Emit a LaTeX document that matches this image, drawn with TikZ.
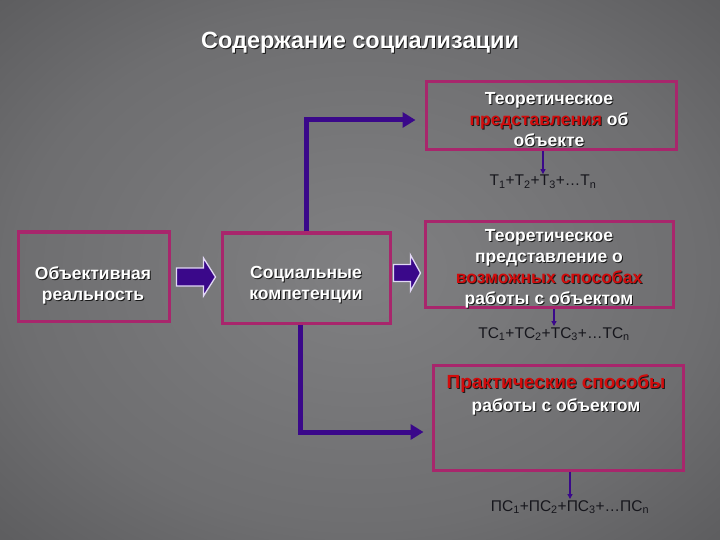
\documentclass[tikz,border=0pt]{standalone}
\usepackage{fontspec}
\setmainfont{Liberation Sans}
\usetikzlibrary{arrows.meta,calc}
\definecolor{bordc}{RGB}{168,38,108}
\definecolor{arrc}{RGB}{58,8,138}
\definecolor{arrline}{RGB}{225,215,245}
\definecolor{redw}{RGB}{210,12,12}
\definecolor{subc}{RGB}{22,22,28}
\definecolor{bgA}{RGB}{128,128,130}
\definecolor{bgB}{RGB}{110,110,112}
\definecolor{bgC}{RGB}{72,72,74}
\definecolor{bgD}{RGB}{30,30,32}
\pgfdeclareradialshading{bgshade}{\pgfpoint{0bp}{0bp}}{color(0bp)=(bgA); color(24bp)=(bgB); color(50bp)=(bgC); color(72bp)=(bgD)}
\newcommand\shd[2][white]{\rlap{\kern1pt\raisebox{-1pt}{\color{black!90}#2}}{\color{#1}#2}}
\newcommand\blkarrow[5]{\path[barrow] let \p1=#1, \p2=#2 in (\x1,\y1+#3pt) -- (\x2-#5pt,\y1+#3pt) -- (\x2-#5pt,\y1+#4pt) -- (\x2,\y1) -- (\x2-#5pt,\y1-#4pt) -- (\x2-#5pt,\y1-#3pt) -- (\x1,\y1-#3pt) -- cycle;}
\begin{document}
\begin{tikzpicture}[x=1pt,y=-1pt,
 box/.style={draw=bordc, line width=3pt, inner sep=0pt},
 txt/.style={align=center, font=\fontsize{17.5}{21}\selectfont\bfseries, inner sep=0pt},
 sublabel/.style={font=\fontsize{15.5}{17}\selectfont, text=subc, inner sep=1pt},
 conn/.style={draw=arrc, line width=5pt, -{Triangle[length=13pt,width=15pt]}},
 tickarrow/.style={draw=arrc, line width=1.5pt, -{Triangle[length=5pt,width=5pt]}},
 barrow/.style={fill=arrc, draw=arrline, line width=1.3pt, line join=miter}
]
\useasboundingbox (0,0) rectangle (720,540);
\shade[shading=bgshade] (0,0) rectangle (720,540);

\node[font=\fontsize{23.5}{27}\selectfont\bfseries, inner sep=0pt] (title) at (360,43) {\shd{Содержание социализации}};

% boxes
\node[box, minimum width=151pt, minimum height=89pt] (b1) at (93.5,276.5) {};
\node[box, minimum width=168pt, minimum height=90pt] (b2) at (306,278) {};
\node[box, minimum width=250pt, minimum height=68pt] (b3) at (551,116) {};
\node[box, minimum width=248pt, minimum height=85pt] (b4) at (549,264.5) {};
\node[box, minimum width=250pt, minimum height=105pt] (b5) at (558,417.5) {};

% texts
\node[txt] (t1) at (93,285.5) {\shd{Объективная}\\\shd{реальность}};
\node[txt] (t2) at (306,285.5) {\shd{Социальные}\\\shd{компетенции}};
\node[txt] (t3) at (549,120) {\shd{Теоретическое}\\\shd[redw]{представления}\ \shd{об}\\\shd{объекте}};
\node[txt] (t4) at (549,269) {\shd{Теоретическое}\\\shd{представление о}\\\shd[redw]{возможных способах}\\\shd{работы с объектом}};
\node[txt] (t5) at (556,395) {\shd[redw]{\fontsize{19}{21}\selectfont Практические способы}\\[2pt]\shd{работы с объектом}};

% block arrows
\blkarrow{($(b1.east)+(6,0.5)$)}{($(b2.west)+(-5,0)$)}{9}{19}{12}
\blkarrow{($(b2.east)+(2,-5)$)}{($(b4.west)+(-3,0)$)}{8.5}{18}{10}

% elbow connectors
\draw[conn, shorten >=9pt] (b2.north) |- ($(b3.west)+(0,4)$);
\draw[conn, shorten >=8pt] ($(b2.south)+(-6,0)$) |- ($(b5.west)+(0,14.5)$);

% sub labels
\node[sublabel] (l1) at (543,182) {Т\textsubscript{1}+Т\textsubscript{2}+Т\textsubscript{3}+…Т\textsubscript{n}};
\node[sublabel] (l2) at (554,334) {ТС\textsubscript{1}+ТС\textsubscript{2}+ТС\textsubscript{3}+…ТС\textsubscript{n}};
\node[sublabel] (l3) at (570,507) {ПС\textsubscript{1}+ПС\textsubscript{2}+ПС\textsubscript{3}+…ПС\textsubscript{n}};

\draw[tickarrow] (b3.south -| l1) -- (l1.north);
\draw[tickarrow] (b4.south -| l2) -- (l2.north);
\draw[tickarrow] (b5.south -| l3) -- (l3.north);
\end{tikzpicture}
\end{document}
